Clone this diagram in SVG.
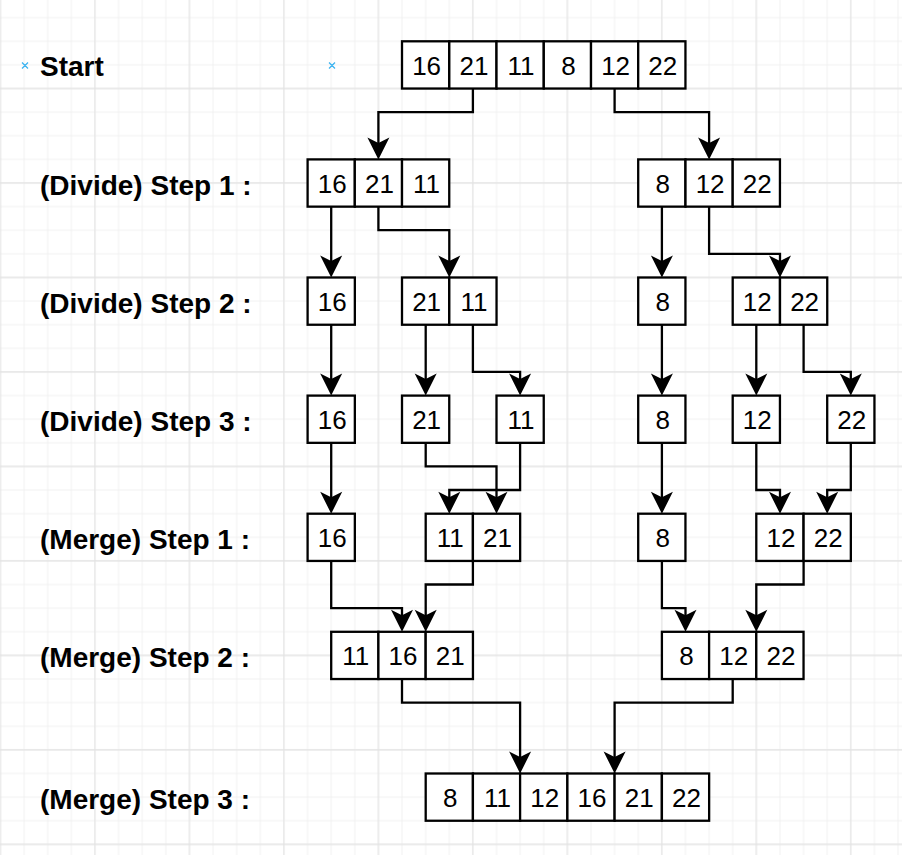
<svg xmlns="http://www.w3.org/2000/svg" width="902" height="855" viewBox="0 0 902 855">
<defs>
<pattern id="minor" width="23.62" height="23.62" patternUnits="userSpaceOnUse" x="-11.31" y="76.69">
<path d="M11.81,0 V23.62 M0,11.81 H23.62" stroke="#f1f1f1" stroke-width="1" fill="none"/>
</pattern>
<pattern id="major" width="94.48" height="94.48" patternUnits="userSpaceOnUse" x="-11.31" y="76.69">
<path d="M11.81,0 V94.48 M0,11.81 H94.48" stroke="#e3e3e3" stroke-width="1" fill="none"/>
</pattern>
<marker id="arr" markerUnits="userSpaceOnUse" viewBox="-10 -13 28 26" refX="0" refY="0" markerWidth="28" markerHeight="26" orient="auto" overflow="visible">
<path d="M14,0 L-8,-11 L-2.5,0 L-8,11 Z" fill="#000"/>
</marker>
<style>
.cell{fill:#fff;stroke:#000;stroke-width:2.3}
.num{font-family:"Liberation Sans",Arial,sans-serif;font-size:26px;text-anchor:middle;fill:#000}
.lbl{font-family:"Liberation Sans",Arial,sans-serif;font-size:28px;font-weight:bold;fill:#000}
.edge{fill:none;stroke:#000;stroke-width:2.3;marker-end:url(#arr)}
.mark{stroke:#3eb4f0;stroke-width:1.3;fill:none}
</style>
</defs>
<rect width="902" height="855" fill="#fff"/>
<rect width="902" height="855" fill="url(#minor)"/>
<rect width="902" height="855" fill="url(#major)"/>

<g id="labels">
<path class="mark" d="M22,62.5 L28,68.5 M28,62.5 L22,68.5 M329,62.5 L335,68.5 M335,62.5 L329,68.5"/>
<text class="lbl" x="40" y="75.7">Start</text>
<text class="lbl" x="40" y="194.8">(Divide) Step 1 :</text>
<text class="lbl" x="40" y="312.9">(Divide) Step 2 :</text>
<text class="lbl" x="40" y="431">(Divide) Step 3 :</text>
<text class="lbl" x="40" y="549.1">(Merge) Step 1 :</text>
<text class="lbl" x="40" y="667.2">(Merge) Step 2 :</text>
<text class="lbl" x="40" y="808.9">(Merge) Step 3 :</text>
</g>

<g id="connectors">
<path class="edge" d="M472.9,88.5 V112.1 H378.4 V145.4"/>
<path class="edge" d="M614.6,88.5 V112.1 H709.1 V145.4"/>
<path class="edge" d="M331.2,206.6 V263.5"/>
<path class="edge" d="M378.4,206.6 V230.2 H449.3 V263.5"/>
<path class="edge" d="M661.9,206.6 V263.5"/>
<path class="edge" d="M709.1,206.6 V253.8 H780.0 V263.5"/>
<path class="edge" d="M331.2,324.7 V381.6"/>
<path class="edge" d="M425.7,324.7 V381.6"/>
<path class="edge" d="M472.9,324.7 V371.9 H520.1 V381.6"/>
<path class="edge" d="M661.9,324.7 V381.6"/>
<path class="edge" d="M756.3,324.7 V381.6"/>
<path class="edge" d="M803.6,324.7 V371.9 H850.8 V381.6"/>
<path class="edge" d="M331.2,442.8 V499.7"/>
<path class="edge" d="M425.7,442.8 V466.4 H496.5 V499.7"/>
<path class="edge" d="M520.1,442.8 V490.0 H449.3 V499.7"/>
<path class="edge" d="M661.9,442.8 V499.7"/>
<path class="edge" d="M756.3,442.8 V490.0 H780.0 V499.7"/>
<path class="edge" d="M850.8,442.8 V490.0 H827.2 V499.7"/>
<path class="edge" d="M331.2,560.9 V608.1 H402.0 V617.8"/>
<path class="edge" d="M472.9,560.9 V584.5 H425.7 V617.8"/>
<path class="edge" d="M661.9,560.9 V608.1 H685.5 V617.8"/>
<path class="edge" d="M803.6,560.9 V584.5 H756.3 V617.8"/>
<path class="edge" d="M402.0,679.0 V702.6 H520.1 V759.5"/>
<path class="edge" d="M732.7,679.0 V702.6 H614.6 V759.5"/>
</g>

<g id="start">
<rect class="cell" x="402.0" y="41.3" width="47.24" height="47.24"/>
<rect class="cell" x="449.3" y="41.3" width="47.24" height="47.24"/>
<rect class="cell" x="496.5" y="41.3" width="47.24" height="47.24"/>
<rect class="cell" x="543.8" y="41.3" width="47.24" height="47.24"/>
<rect class="cell" x="591.0" y="41.3" width="47.24" height="47.24"/>
<rect class="cell" x="638.2" y="41.3" width="47.24" height="47.24"/>
<text class="num" x="426.6" y="74.9">16</text>
<text class="num" x="473.9" y="74.9">21</text>
<text class="num" x="521.1" y="74.9">11</text>
<text class="num" x="568.4" y="74.9">8</text>
<text class="num" x="615.6" y="74.9">12</text>
<text class="num" x="662.8" y="74.9">22</text>
</g>

<g id="d1-left">
<rect class="cell" x="307.6" y="159.4" width="47.24" height="47.24"/>
<rect class="cell" x="354.8" y="159.4" width="47.24" height="47.24"/>
<rect class="cell" x="402.0" y="159.4" width="47.24" height="47.24"/>
<text class="num" x="332.2" y="193">16</text>
<text class="num" x="379.4" y="193">21</text>
<text class="num" x="426.6" y="193">11</text>
</g>
<g id="d1-right">
<rect class="cell" x="638.2" y="159.4" width="47.24" height="47.24"/>
<rect class="cell" x="685.5" y="159.4" width="47.24" height="47.24"/>
<rect class="cell" x="732.7" y="159.4" width="47.24" height="47.24"/>
<text class="num" x="662.8" y="193">8</text>
<text class="num" x="710.1" y="193">12</text>
<text class="num" x="757.3" y="193">22</text>
</g>

<g id="d2-16">
<rect class="cell" x="307.6" y="277.5" width="47.24" height="47.24"/>
<text class="num" x="332.2" y="311.1">16</text>
</g>
<g id="d2-21-11">
<rect class="cell" x="402.0" y="277.5" width="47.24" height="47.24"/>
<rect class="cell" x="449.3" y="277.5" width="47.24" height="47.24"/>
<text class="num" x="426.6" y="311.1">21</text>
<text class="num" x="473.9" y="311.1">11</text>
</g>
<g id="d2-8">
<rect class="cell" x="638.2" y="277.5" width="47.24" height="47.24"/>
<text class="num" x="662.8" y="311.1">8</text>
</g>
<g id="d2-12-22">
<rect class="cell" x="732.7" y="277.5" width="47.24" height="47.24"/>
<rect class="cell" x="780.0" y="277.5" width="47.24" height="47.24"/>
<text class="num" x="757.3" y="311.1">12</text>
<text class="num" x="804.6" y="311.1">22</text>
</g>

<g id="d3-16">
<rect class="cell" x="307.6" y="395.6" width="47.24" height="47.24"/>
<text class="num" x="332.2" y="429.2">16</text>
</g>
<g id="d3-21">
<rect class="cell" x="402.0" y="395.6" width="47.24" height="47.24"/>
<text class="num" x="426.6" y="429.2">21</text>
</g>
<g id="d3-11">
<rect class="cell" x="496.5" y="395.6" width="47.24" height="47.24"/>
<text class="num" x="521.1" y="429.2">11</text>
</g>
<g id="d3-8">
<rect class="cell" x="638.2" y="395.6" width="47.24" height="47.24"/>
<text class="num" x="662.8" y="429.2">8</text>
</g>
<g id="d3-12">
<rect class="cell" x="732.7" y="395.6" width="47.24" height="47.24"/>
<text class="num" x="757.3" y="429.2">12</text>
</g>
<g id="d3-22">
<rect class="cell" x="827.2" y="395.6" width="47.24" height="47.24"/>
<text class="num" x="851.8" y="429.2">22</text>
</g>

<g id="m1-16">
<rect class="cell" x="307.6" y="513.7" width="47.24" height="47.24"/>
<text class="num" x="332.2" y="547.3">16</text>
</g>
<g id="m1-11-21">
<rect class="cell" x="425.7" y="513.7" width="47.24" height="47.24"/>
<rect class="cell" x="472.9" y="513.7" width="47.24" height="47.24"/>
<text class="num" x="450.3" y="547.3">11</text>
<text class="num" x="497.5" y="547.3">21</text>
</g>
<g id="m1-8">
<rect class="cell" x="638.2" y="513.7" width="47.24" height="47.24"/>
<text class="num" x="662.8" y="547.3">8</text>
</g>
<g id="m1-12-22">
<rect class="cell" x="756.3" y="513.7" width="47.24" height="47.24"/>
<rect class="cell" x="803.6" y="513.7" width="47.24" height="47.24"/>
<text class="num" x="780.9" y="547.3">12</text>
<text class="num" x="828.2" y="547.3">22</text>
</g>

<g id="m2-left">
<rect class="cell" x="331.2" y="631.8" width="47.24" height="47.24"/>
<rect class="cell" x="378.4" y="631.8" width="47.24" height="47.24"/>
<rect class="cell" x="425.7" y="631.8" width="47.24" height="47.24"/>
<text class="num" x="355.8" y="665.4">11</text>
<text class="num" x="403.0" y="665.4">16</text>
<text class="num" x="450.3" y="665.4">21</text>
</g>
<g id="m2-right">
<rect class="cell" x="661.9" y="631.8" width="47.24" height="47.24"/>
<rect class="cell" x="709.1" y="631.8" width="47.24" height="47.24"/>
<rect class="cell" x="756.3" y="631.8" width="47.24" height="47.24"/>
<text class="num" x="686.5" y="665.4">8</text>
<text class="num" x="733.7" y="665.4">12</text>
<text class="num" x="780.9" y="665.4">22</text>
</g>

<g id="m3">
<rect class="cell" x="425.7" y="773.5" width="47.24" height="47.24"/>
<rect class="cell" x="472.9" y="773.5" width="47.24" height="47.24"/>
<rect class="cell" x="520.1" y="773.5" width="47.24" height="47.24"/>
<rect class="cell" x="567.4" y="773.5" width="47.24" height="47.24"/>
<rect class="cell" x="614.6" y="773.5" width="47.24" height="47.24"/>
<rect class="cell" x="661.9" y="773.5" width="47.24" height="47.24"/>
<text class="num" x="450.3" y="807.1">8</text>
<text class="num" x="497.5" y="807.1">11</text>
<text class="num" x="544.7" y="807.1">12</text>
<text class="num" x="592.0" y="807.1">16</text>
<text class="num" x="639.2" y="807.1">21</text>
<text class="num" x="686.5" y="807.1">22</text>
</g>
</svg>
